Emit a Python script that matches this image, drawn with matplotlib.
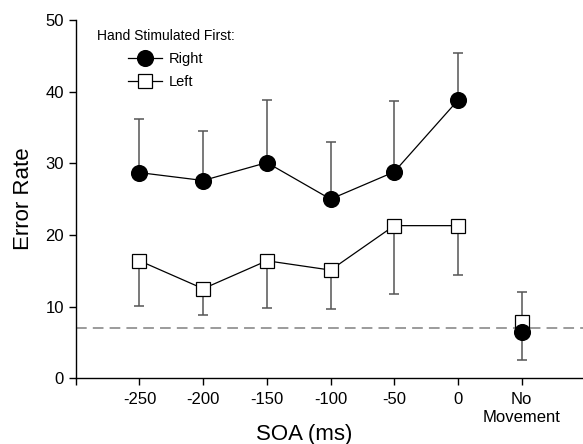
import matplotlib
matplotlib.use("Agg")
import matplotlib.pyplot as plt

plt.rcParams['font.family'] = ['Liberation Sans', 'DejaVu Sans']

# SOA conditions (ms); "No Movement" is drawn at x = 50
soa = [-250, -200, -150, -100, -50, 0]
no_move_x = 50
xtick_pos = [-300, -250, -200, -150, -100, -50, 0, 50]
xtick_labels = ['', '-250', '-200', '-150', '-100', '-50', '0', 'No\nMovement']

right_mean = [28.7, 27.6, 30.1, 25.0, 28.8, 38.8]
right_err_up = [7.5, 6.9, 8.8, 8.0, 9.9, 6.6]
left_mean = [16.4, 12.5, 16.4, 15.1, 21.3, 21.3]
left_err_down = [6.3, 3.6, 6.6, 5.4, 9.5, 6.9]

right_nomove = 6.5
left_nomove = 7.8
left_nomove_err = [5.3, 4.2]  # down, up
baseline = 7.0

fig = plt.figure(figsize=(5.83, 4.44), dpi=100)
ax = fig.add_axes([0.130, 0.148, 0.8696, 0.807])

ecol = '#555555'
ax.axhline(baseline, color='#808080', ls=(0, (7, 4)), lw=1.1, zorder=1)

# error bars (one-sided)
ax.errorbar(soa, right_mean, yerr=[[0] * 6, right_err_up], fmt='none',
            ecolor=ecol, elinewidth=1.1, capsize=3.8, capthick=1.1, zorder=2)
ax.errorbar(soa, left_mean, yerr=[left_err_down, [0] * 6],
            fmt='none', ecolor=ecol, elinewidth=1.1, capsize=3.8,
            capthick=1.1, zorder=2)
ax.errorbar([no_move_x], [left_nomove], yerr=[[left_nomove_err[0]], [left_nomove_err[1]]],
            fmt='none', ecolor=ecol, elinewidth=1.1, capsize=3.8,
            capthick=1.1, zorder=2)

ax.plot(soa, right_mean, color='black', lw=0.9, marker='o', ms=11.3,
        mfc='black', mec='black', label='Right', zorder=4)
ax.plot(soa, left_mean, color='black', lw=0.9, marker='s', ms=10.2,
        mfc='white', mec='black', mew=0.9, label='Left', zorder=3)
ax.plot([no_move_x], [left_nomove], ls='none', marker='s', ms=10.2,
        mfc='white', mec='black', mew=0.9, zorder=3)
ax.plot([no_move_x], [right_nomove], ls='none', marker='o', ms=11.3,
        mfc='black', mec='black', zorder=4)

ax.set_xlim(-300, 98)
ax.set_ylim(0, 50)
ax.set_xticks(xtick_pos)
ax.set_xticklabels(xtick_labels, fontsize=12)
ax.set_yticks([0, 10, 20, 30, 40, 50])
ax.tick_params(axis='y', labelsize=12, direction='out', length=5, width=1)
ax.tick_params(axis='x', direction='out', length=5, width=1, pad=5)
for s in ['top', 'right']:
    ax.spines[s].set_visible(False)
for s in ['left', 'bottom']:
    ax.spines[s].set_linewidth(1)

ax.set_ylabel('Error Rate', fontsize=16, labelpad=8)
ax.set_xlabel('SOA (ms)', fontsize=16)
ax.xaxis.set_label_coords(0.45, -0.128)

leg = ax.legend(title='Hand Stimulated First:', loc='upper left',
                bbox_to_anchor=(0.03, 0.992), frameon=False, fontsize=10.5,
                title_fontsize=10, handlelength=2.3, borderaxespad=0,
                labelspacing=0.62, handletextpad=0.5)

fig.savefig('out.png', dpi=100)
